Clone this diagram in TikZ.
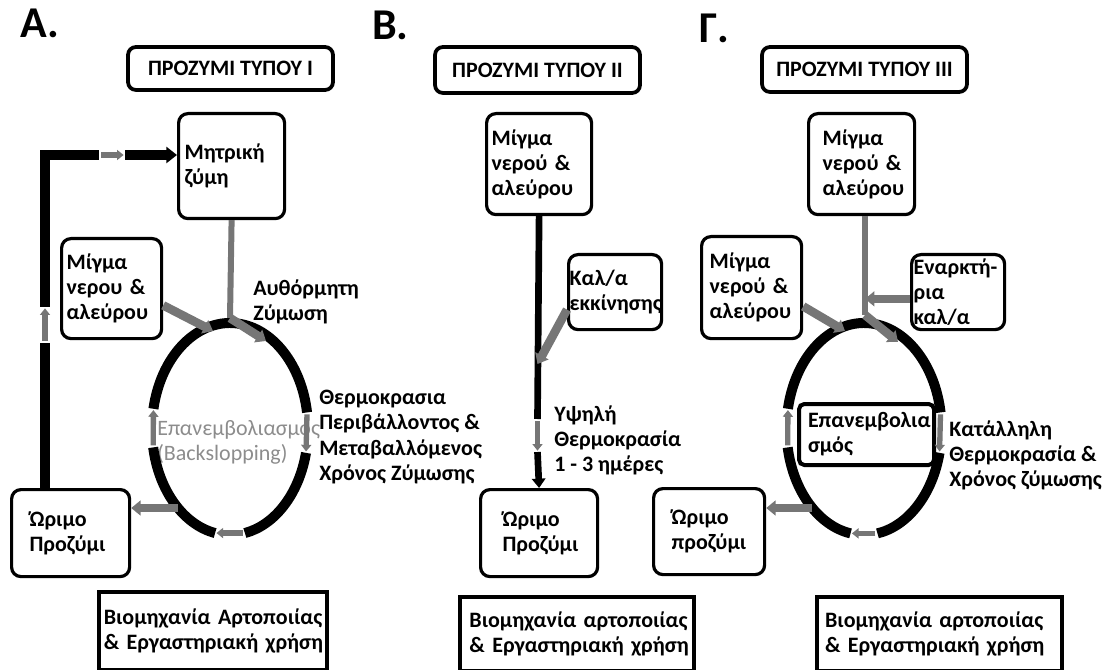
\documentclass[tikz,border=0pt]{standalone}
\usepackage{fontspec}
\setmainfont{Carlito}
\usepackage{tikz}
\usetikzlibrary{arrows.meta}

\definecolor{arrgray}{RGB}{118,118,118}
\definecolor{txtgray}{RGB}{140,140,140}

\tikzset{
	rbox/.style={draw, fill=white, line width=2.4pt, rounded corners=7pt, align=left, anchor=north west, inner ysep=0pt},
	sbox/.style={draw, fill=white, line width=3.2pt, align=left, anchor=north west, inner ysep=0pt},
	tbox/.style={draw, line width=2.8pt, rounded corners=6pt, font=\fontsize{16.5}{18}\selectfont\bfseries},
	lbl/.style={align=left, anchor=west, inner sep=0pt},
	panel/.style={anchor=base west, inner sep=0pt, font=\fontsize{33}{36}\selectfont\bfseries},
	ring/.style={line width=7.5pt},
	grayln/.style={draw=arrgray, line width=4.5pt},
	grayar/.style={draw=arrgray, line width=6.5pt, -{Triangle[width=11pt,length=7pt]}},
	gapar/.style={draw=arrgray, line width=4pt, shorten <=1.5pt, shorten >=1pt, -{Triangle[width=7.5pt,length=5pt]}},
	blkln/.style={line width=7pt},
	blkB/.style={line width=5pt},
}

\begin{document}
\begin{tikzpicture}[x=0.75pt, y=-0.75pt, font=\fontsize{16.5}{18.8}\selectfont\bfseries]
	\useasboundingbox (0,0) rectangle (1110,670);
	
	%panel letters
	\node (letA) [panel] at (20,38)  {Α.};
	\node (letB) [panel] at (372,40) {Β.};
	\node (letC) [panel] at (699,43) {Γ.};
	
	%titles
	\node (titA) [tbox, minimum width=153.75pt, minimum height=32.25pt] at (230.5,68.5) {ΠΡΟΖΥΜΙ ΤΥΠΟΥ Ι};
	\node (titB) [tbox, minimum width=153.75pt, minimum height=34.5pt]  at (537.5,70)   {ΠΡΟΖΥΜΙ ΤΥΠΟΥ ΙΙ};
	\node (titC) [tbox, minimum width=153.75pt, minimum height=33.75pt] at (864.5,69.5) {ΠΡΟΖΥΜΙ ΤΥΠΟΥ ΙΙΙ};
	
	%boxes A
	\node (mitA) [rbox, inner xsep=4.5pt, text width=70.5pt, minimum height=78.75pt]  at (177,112) {Μητρική\\ζύμη};
	\node (migA) [rbox, inner xsep=3.75pt, text width=67.5pt, minimum height=75pt]    at (60,237)  {Μίγμα\\\mbox{νερου \&}\\αλεύρου};
	\node (orA)  [rbox, inner xsep=13.5pt, text width=61.5pt, minimum height=65.25pt] at (10,488)  {Ώριμο\\Προζύμι};
	\node (indA) [sbox, inner xsep=3.5pt, text width=164pt, minimum height=58.5pt]    at (97,590)  {\mbox{Βιομηχανία Αρτοποιίας}\\\mbox{\& Εργαστηριακή χρήση}};
	
	%boxes B
	\node (migB) [rbox, inner xsep=3.75pt, text width=71.25pt, minimum height=75.75pt] at (485,112) {Μίγμα\\\mbox{νερού \&}\\αλεύρου};
	\node (kalB) [rbox, inner xsep=0.75pt, text width=68.25pt, minimum height=56.25pt] at (567,253) {Καλ/α\\εκκίνησης};
	\node (orB)  [rbox, inner xsep=16.5pt, text width=54.75pt, minimum height=65.25pt] at (479,488) {Ώριμο\\Προζύμι};
	\node (indB) [sbox, inner xsep=7pt, text width=161.5pt, minimum height=55.5pt]     at (458,595) {\mbox{Βιομηχανία αρτοποιίας}\\\mbox{\& Εργαστηριακή χρήση}};
	
	%boxes C
	\node (migC) [rbox, inner xsep=10.5pt, text width=58.5pt, minimum height=75.75pt]  at (807,112) {Μίγμα\\\mbox{νερού \&}\\αλεύρου};
	\node (enC)  [rbox, inner xsep=1.5pt, text width=66.75pt, minimum height=56.25pt]  at (910,253) {Εναρκτή-\\ρια\\καλ/α};
	\node (mgLC) [rbox, inner xsep=6pt, text width=63pt, minimum height=76.5pt]        at (700,235) {Μίγμα\\\mbox{νερού \&}\\αλεύρου};
	\node (orC)  [rbox, inner xsep=13.5pt, text width=56.25pt, minimum height=64.5pt]  at (652,487) {Ώριμο\\προζύμι};
	\node (repC) [rbox, rounded corners=4pt, line width=3pt, inner xsep=6.75pt, text width=87.75pt, minimum height=45.75pt] at (797,402) {Επανεμβολια\\σμός};
	\node (indC) [sbox, inner xsep=6pt, text width=171.75pt, minimum height=55.5pt]    at (815,595) {\mbox{Βιομηχανία αρτοποιίας}\\\mbox{\& Εργαστηριακή χρήση}};
	
	%labels
	\node (spA) [lbl] at (253,302) {Αυθόρμητη\\Ζύμωση};
	\node (thA) [lbl] at (319,437) {Θερμοκρασια\\Περιβάλλοντος \&\\Μεταβαλλόμενος\\Χρόνος Ζύμωσης};
	\node (bsA) [lbl, text=txtgray, font=\fontsize{16.5}{18.8}\selectfont\mdseries] at (157,442) {Επανεμβολιασμός\\(Backslopping)};
	\node (hiB) [lbl] at (554,440) {Υψηλή\\Θερμοκρασία\\1 - 3 ημέρες};
	\node (okC) [lbl] at (949,455) {Κατάλληλη\\Θερμοκρασία \&\\Χρόνος ζύμωσης};
	
	%points
	\coordinate (cA) at (230,429);
	\coordinate (cC) at (864,429);
	\coordinate (jA) at (230,318);
	\coordinate (jC) at (865,315);
	\coordinate (tA1) at (213,331);
	\coordinate (tA2) at (266,341);
	\coordinate (tC1) at (845,331);
	\coordinate (tC2) at (898,342);
	\coordinate (kB) at (537.5,364);
	\coordinate (gB0) at (537.5,419);
	\coordinate (gB1) at (537.5,452);
	\coordinate (fA0) at (45,343);
	\coordinate (fA1) at (45,307);
	\coordinate (fA2) at (45,155);
	\coordinate (fA3) at (99,155);
	\coordinate (fA4) at (125,155);
	\coordinate (oA) at ([shift={(131.8:78 and 106)}]cA);
	\coordinate (oC) at ([shift={(131.8:77.5 and 106)}]cC);
	
	%rings
	\draw[ring] ([shift={(13:78 and 106)}]cA) arc[start angle=13, end angle=79, x radius=78, y radius=106];
	\draw[ring] ([shift={(101:78 and 106)}]cA) arc[start angle=101, end angle=170, x radius=78, y radius=106];
	\draw[ring] ([shift={(191:78 and 106)}]cA) arc[start angle=191, end angle=351, x radius=78, y radius=106];
	\draw[ring] ([shift={(13:77.5 and 106)}]cC) arc[start angle=13, end angle=80, x radius=77.5, y radius=106];
	\draw[ring] ([shift={(100:77.5 and 106)}]cC) arc[start angle=100, end angle=170, x radius=77.5, y radius=106];
	\draw[ring] ([shift={(191:77.5 and 106)}]cC) arc[start angle=191, end angle=351, x radius=77.5, y radius=106];
	
	%links A
	\draw[grayln] (mitA.south) -- (jA);
	\draw[grayar] (jA) -- (tA2);
	\draw[grayar] (migA.-18) -- (tA1);
	\draw[gapar] ([shift={(-9:78 and 106)}]cA) -- ([shift={(13:78 and 106)}]cA);
	\draw[gapar] ([shift={(79:78 and 106)}]cA) -- ([shift={(101:78 and 106)}]cA);
	\draw[gapar] ([shift={(170:78 and 106)}]cA) -- ([shift={(191:78 and 106)}]cA);
	\draw[grayar] (oA) -- (oA -| orA.east);
	\draw[blkln] (fA0 |- orA.north) -- (fA0);
	\draw[gapar] (fA0) -- (fA1);
	\draw[blkln, line join=miter] (fA1) -- (fA2) -- (fA3);
	\draw[gapar] (fA3) -- (fA4);
	\draw[blkln, -{Triangle[width=12pt,length=8pt]}] (fA4) -- (fA4 -| mitA.west);
	
	%links B
	\draw[blkB] (migB.south) -- (gB0);
	\draw[gapar] (gB0) -- (gB1);
	\draw[blkB, -{Triangle[width=10pt,length=7pt]}] (gB1) -- (orB.north);
	\draw[grayar] (kalB.200) -- (kB);
	
	%links C
	\draw[grayln] (migC.south -| jC) -- (jC);
	\draw[grayar] (jC) -- (tC2);
	\draw[grayar] (mgLC.-20) -- (tC1);
	\draw[grayar] (enC.188) -- (enC.188 -| jC);
	\draw[gapar] ([shift={(-9:77.5 and 106)}]cC) -- ([shift={(13:77.5 and 106)}]cC);
	\draw[gapar] ([shift={(80:77.5 and 106)}]cC) -- ([shift={(100:77.5 and 106)}]cC);
	\draw[gapar] ([shift={(170:77.5 and 106)}]cC) -- ([shift={(191:77.5 and 106)}]cC);
	\draw[grayar] (oC) -- (oC -| orC.east);
\end{tikzpicture}
\end{document}
